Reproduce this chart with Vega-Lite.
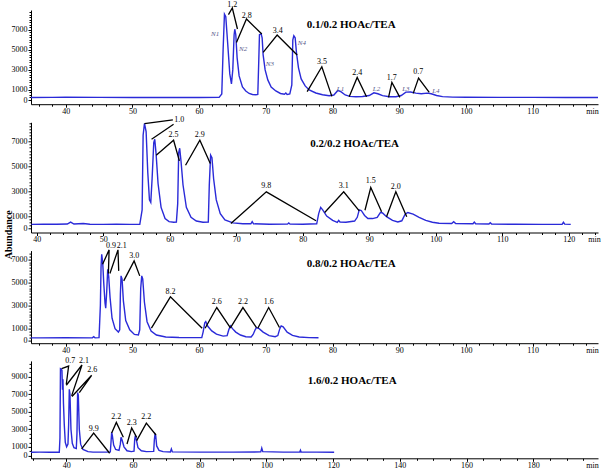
{
  "$schema": "https://vega.github.io/schema/vega-lite/v6.json",
  "padding": {"left": 3, "top": 0, "right": 0, "bottom": 0},
  "config": {
    "view": {"stroke": null},
    "axis": {"grid": false, "domainColor": "black", "tickColor": "black", "labelColor": "black", "labelFont": "Liberation Serif", "labelFontSize": 8, "labelOverlap": false, "labelFlush": false, "titleFont": "Liberation Serif", "titleColor": "black"},
    "axisX": {"tickSize": 3, "labelPadding": 0, "format": "d", "titleFontWeight": "normal", "titleFontSize": 8, "titleX": 561, "titleY": 7, "titleBaseline": "middle", "titleAlign": "center"},
    "axisY": {"tickSize": 3, "labelPadding": 1, "format": "d"}
  },
  "datasets": {
    "c1": [
      {"t":34.8,"v":250},{"t":38,"v":260},{"t":40,"v":280},{"t":45,"v":260},{"t":50,"v":250},{"t":55,"v":255},{"t":60,"v":250},{"t":63.0,"v":260},{"t":63.4,"v":600},{"t":63.6,"v":5000},{"t":63.8,"v":8550},{"t":64.0,"v":8300},{"t":64.3,"v":5500},{"t":64.6,"v":2600},{"t":64.85,"v":1600},{"t":65.05,"v":3000},{"t":65.25,"v":6500},{"t":65.35,"v":7050},{"t":65.5,"v":6500},{"t":65.7,"v":4200},{"t":66.0,"v":2400},{"t":66.5,"v":1300},{"t":67.0,"v":900},{"t":67.5,"v":650},{"t":68.0,"v":550},{"t":68.5,"v":520},{"t":68.8,"v":550},{"t":68.95,"v":4000},{"t":69.05,"v":6500},{"t":69.3,"v":6600},{"t":69.45,"v":6200},{"t":69.6,"v":4500},{"t":69.9,"v":3000},{"t":70.3,"v":2000},{"t":70.8,"v":1300},{"t":71.5,"v":900},{"t":72.2,"v":650},{"t":72.8,"v":580},{"t":73.0,"v":700},{"t":73.2,"v":560},{"t":73.6,"v":600},{"t":73.9,"v":1500},{"t":74.05,"v":6000},{"t":74.2,"v":6400},{"t":74.4,"v":6200},{"t":74.6,"v":4700},{"t":74.9,"v":3200},{"t":75.3,"v":2100},{"t":75.9,"v":1400},{"t":76.5,"v":1000},{"t":77.5,"v":700},{"t":78.5,"v":520},{"t":79.5,"v":420},{"t":80.2,"v":500},{"t":80.8,"v":950},{"t":81.3,"v":800},{"t":81.9,"v":500},{"t":82.6,"v":360},{"t":83.5,"v":330},{"t":84.5,"v":350},{"t":85.5,"v":450},{"t":86.2,"v":720},{"t":86.8,"v":620},{"t":87.5,"v":430},{"t":88.5,"v":330},{"t":89.5,"v":330},{"t":90.3,"v":450},{"t":91.0,"v":780},{"t":91.7,"v":800},{"t":92.5,"v":690},{"t":93.3,"v":620},{"t":94.2,"v":680},{"t":94.8,"v":620},{"t":95.6,"v":450},{"t":96.5,"v":340},{"t":98,"v":290},{"t":100,"v":270},{"t":105,"v":260},{"t":110,"v":260},{"t":115,"v":255},{"t":119.8,"v":250}
    ],
    "a1": [
      {"id":"1.2","o":0,"t":64.4,"v":8500},{"id":"1.2","o":1,"t":64.98,"v":9160},{"id":"1.2","o":2,"t":65.75,"v":7070},
      {"id":"2.8","o":0,"t":65.6,"v":5737},{"id":"2.8","o":1,"t":67.1,"v":8068},{"id":"2.8","o":2,"t":69.4,"v":6574},
      {"id":"3.4","o":0,"t":69.6,"v":4741},{"id":"3.4","o":1,"t":71.7,"v":6474},{"id":"3.4","o":2,"t":74.7,"v":4482},
      {"id":"3.5","o":0,"t":76.2,"v":827},{"id":"3.5","o":1,"t":78.4,"v":3317},{"id":"3.5","o":2,"t":79.9,"v":359},
      {"id":"2.4","o":0,"t":82.5,"v":329},{"id":"2.4","o":1,"t":83.7,"v":2251},{"id":"2.4","o":2,"t":85.1,"v":329},
      {"id":"1.7","o":0,"t":88.4,"v":259},{"id":"1.7","o":1,"t":88.9,"v":1753},{"id":"1.7","o":2,"t":90.1,"v":259},
      {"id":"0.7","o":0,"t":92.1,"v":657},{"id":"0.7","o":1,"t":92.9,"v":2191},{"id":"0.7","o":2,"t":94.5,"v":757}
    ],
    "l1": [
      {"t":64.98,"v":9490,"s":"1.2"},{"t":67.14,"v":8400,"s":"2.8"},{"t":71.78,"v":6900,"s":"3.4"},{"t":78.43,"v":3780,"s":"3.5"},{"t":83.72,"v":2650,"s":"2.4"},{"t":88.88,"v":2190,"s":"1.7"},{"t":92.86,"v":2780,"s":"0.7"}
    ],
    "n1": [
      {"t":62.4,"v":6570,"s":"N1"},{"t":66.6,"v":5080,"s":"N2"},{"t":70.6,"v":3585,"s":"N3"},{"t":75.4,"v":5637,"s":"N4"},{"t":81.2,"v":1095,"s":"L1"},{"t":86.6,"v":1095,"s":"L2"},{"t":91.0,"v":1095,"s":"L3"},{"t":95.5,"v":926,"s":"L4"}
    ],
    "c2": [
      {"t":39.2,"v":330},{"t":41,"v":340},{"t":43,"v":340},{"t":44.6,"v":360},{"t":45.1,"v":520},{"t":45.6,"v":360},{"t":47.0,"v":400},{"t":48,"v":340},{"t":50,"v":330},{"t":52,"v":340},{"t":54,"v":330},{"t":55.5,"v":340},{"t":55.85,"v":1500},{"t":56.0,"v":7500},{"t":56.2,"v":8450},{"t":56.45,"v":7800},{"t":56.7,"v":4500},{"t":56.95,"v":2300},{"t":57.15,"v":2100},{"t":57.35,"v":4000},{"t":57.6,"v":6900},{"t":57.75,"v":7180},{"t":57.95,"v":6000},{"t":58.25,"v":3600},{"t":58.7,"v":1700},{"t":59.3,"v":800},{"t":59.9,"v":550},{"t":60.6,"v":500},{"t":61.0,"v":520},{"t":61.2,"v":2000},{"t":61.35,"v":6100},{"t":61.5,"v":6460},{"t":61.7,"v":5400},{"t":62.0,"v":3500},{"t":62.5,"v":1700},{"t":63.2,"v":900},{"t":64.0,"v":600},{"t":65.0,"v":500},{"t":65.8,"v":520},{"t":65.95,"v":3500},{"t":66.15,"v":5900},{"t":66.35,"v":5700},{"t":66.6,"v":4000},{"t":67.0,"v":2300},{"t":67.6,"v":1200},{"t":68.3,"v":700},{"t":69.5,"v":450},{"t":71,"v":380},{"t":72.2,"v":380},{"t":72.4,"v":550},{"t":72.6,"v":380},{"t":75,"v":340},{"t":77.7,"v":350},{"t":77.9,"v":450},{"t":78.1,"v":350},{"t":80,"v":340},{"t":82.1,"v":380},{"t":82.4,"v":1200},{"t":82.7,"v":1700},{"t":83.0,"v":1500},{"t":83.6,"v":1000},{"t":84.5,"v":650},{"t":85.2,"v":500},{"t":85.4,"v":650},{"t":85.6,"v":520},{"t":86.5,"v":500},{"t":87.8,"v":600},{"t":88.2,"v":900},{"t":88.5,"v":1500},{"t":88.8,"v":1450},{"t":89.3,"v":1050},{"t":89.8,"v":800},{"t":90.5,"v":800},{"t":91.2,"v":900},{"t":91.7,"v":1300},{"t":92.0,"v":1250},{"t":92.6,"v":950},{"t":93.5,"v":650},{"t":94.3,"v":530},{"t":94.9,"v":620},{"t":95.4,"v":1150},{"t":95.8,"v":1290},{"t":96.6,"v":1150},{"t":97.5,"v":900},{"t":98.5,"v":650},{"t":99.5,"v":500},{"t":100.5,"v":420},{"t":102.4,"v":400},{"t":102.7,"v":550},{"t":103.0,"v":400},{"t":105.6,"v":380},{"t":105.8,"v":520},{"t":106.0,"v":380},{"t":108.0,"v":360},{"t":108.2,"v":470},{"t":108.4,"v":360},{"t":112,"v":340},{"t":116,"v":330},{"t":119.0,"v":340},{"t":119.2,"v":500},{"t":119.4,"v":350},{"t":120.3,"v":330}
    ],
    "a2": [
      {"id":"1.0a","o":0,"t":56.2,"v":8440},{"id":"1.0a","o":1,"t":60.47,"v":8740},
      {"id":"1.0b","o":0,"t":57.27,"v":7180},{"id":"1.0b","o":1,"t":60.58,"v":8390},
      {"id":"2.5","o":0,"t":57.97,"v":5900},{"id":"2.5","o":1,"t":60.58,"v":7100},{"id":"2.5","o":2,"t":61.45,"v":5440},
      {"id":"2.9","o":0,"t":62.38,"v":5090},{"id":"2.9","o":1,"t":64.53,"v":7100},{"id":"2.9","o":2,"t":66.1,"v":5226},
      {"id":"9.8","o":0,"t":69.2,"v":400},{"id":"9.8","o":1,"t":74.53,"v":2950},{"id":"9.8","o":2,"t":82.0,"v":620},
      {"id":"3.1","o":0,"t":83.3,"v":1290},{"id":"3.1","o":1,"t":86.16,"v":2950},{"id":"3.1","o":2,"t":88.5,"v":1420},
      {"id":"1.5","o":0,"t":89.36,"v":1470},{"id":"1.5","o":1,"t":90.23,"v":3300},{"id":"1.5","o":2,"t":91.86,"v":1340},
      {"id":"2.0","o":0,"t":92.6,"v":940},{"id":"2.0","o":1,"t":94.0,"v":2950},{"id":"2.0","o":2,"t":95.64,"v":940}
    ],
    "l2": [
      {"t":61.45,"v":8740,"s":"1.0"},{"t":60.58,"v":7500,"s":"2.5"},{"t":64.53,"v":7500,"s":"2.9"},{"t":74.53,"v":3430,"s":"9.8"},{"t":86.16,"v":3430,"s":"3.1"},{"t":90.23,"v":3830,"s":"1.5"},{"t":94.0,"v":3350,"s":"2.0"}
    ],
    "c3": [
      {"t":34.8,"v":200},{"t":36,"v":200},{"t":40,"v":210},{"t":44.0,"v":200},{"t":44.2,"v":300},{"t":44.4,"v":200},{"t":45.0,"v":220},{"t":45.2,"v":3000},{"t":45.3,"v":6300},{"t":45.4,"v":7430},{"t":45.55,"v":6700},{"t":45.7,"v":5000},{"t":45.9,"v":3200},{"t":46.0,"v":2765},{"t":46.15,"v":4200},{"t":46.3,"v":6130},{"t":46.45,"v":5500},{"t":46.65,"v":3700},{"t":46.95,"v":1900},{"t":47.4,"v":1000},{"t":47.9,"v":700},{"t":48.1,"v":900},{"t":48.2,"v":4000},{"t":48.3,"v":5560},{"t":48.45,"v":5300},{"t":48.65,"v":3400},{"t":49.0,"v":1700},{"t":49.6,"v":900},{"t":50.3,"v":500},{"t":50.9,"v":450},{"t":51.1,"v":900},{"t":51.25,"v":4500},{"t":51.4,"v":5560},{"t":51.55,"v":5300},{"t":51.8,"v":3300},{"t":52.2,"v":1600},{"t":52.8,"v":800},{"t":53.6,"v":450},{"t":55,"v":280},{"t":57,"v":230},{"t":59,"v":220},{"t":60.4,"v":230},{"t":60.6,"v":700},{"t":60.85,"v":1500},{"t":61.0,"v":1610},{"t":61.3,"v":1200},{"t":61.9,"v":800},{"t":62.6,"v":520},{"t":63.6,"v":350},{"t":64.2,"v":400},{"t":64.45,"v":900},{"t":64.7,"v":1240},{"t":65.0,"v":1000},{"t":65.5,"v":700},{"t":66.2,"v":450},{"t":67.0,"v":300},{"t":67.8,"v":280},{"t":68.1,"v":500},{"t":68.4,"v":900},{"t":68.6,"v":1094},{"t":69.0,"v":1000},{"t":69.6,"v":700},{"t":70.5,"v":400},{"t":71.4,"v":300},{"t":71.8,"v":400},{"t":72.1,"v":1000},{"t":72.3,"v":1240},{"t":72.6,"v":1150},{"t":73.2,"v":700},{"t":74.0,"v":420},{"t":75.0,"v":280},{"t":76.5,"v":220},{"t":77.9,"v":210}
    ],
    "a3": [
      {"id":"0.9","o":0,"t":45.53,"v":6566},{"id":"0.9","o":1,"t":46.51,"v":7805},{"id":"0.9","o":2,"t":46.4,"v":5760},
      {"id":"2.1","o":0,"t":46.63,"v":5760},{"id":"2.1","o":1,"t":47.84,"v":7805},{"id":"2.1","o":2,"t":47.95,"v":5990},
      {"id":"3.0","o":0,"t":48.7,"v":5126},{"id":"3.0","o":1,"t":50.26,"v":6854},{"id":"3.0","o":2,"t":51.1,"v":5560},
      {"id":"8.2","o":0,"t":52.85,"v":1037},{"id":"8.2","o":1,"t":55.7,"v":3744},{"id":"8.2","o":2,"t":60.46,"v":1037},
      {"id":"2.6","o":0,"t":60.9,"v":1037},{"id":"2.6","o":1,"t":62.65,"v":2822},{"id":"2.6","o":2,"t":64.67,"v":1094},
      {"id":"2.2","o":0,"t":64.67,"v":1037},{"id":"2.2","o":1,"t":66.57,"v":2822},{"id":"2.2","o":2,"t":68.6,"v":1094},
      {"id":"1.6","o":0,"t":68.8,"v":1037},{"id":"1.6","o":1,"t":70.43,"v":2822},{"id":"1.6","o":2,"t":72.05,"v":1094}
    ],
    "l3": [
      {"t":46.8,"v":8150,"s":"0.9"},{"t":48.4,"v":8150,"s":"2.1"},{"t":50.26,"v":7290,"s":"3.0"},{"t":55.7,"v":4180,"s":"8.2"},{"t":62.65,"v":3310,"s":"2.6"},{"t":66.57,"v":3310,"s":"2.2"},{"t":70.43,"v":3310,"s":"1.6"}
    ],
    "c4": [
      {"t":29.42,"v":380},{"t":32,"v":390},{"t":35,"v":380},{"t":37.9,"v":380},{"t":38.1,"v":2000},{"t":38.25,"v":9900},{"t":38.5,"v":9850},{"t":38.7,"v":9700},{"t":38.85,"v":7500},{"t":39.0,"v":8700},{"t":39.15,"v":6000},{"t":39.4,"v":3500},{"t":39.7,"v":1500},{"t":40.1,"v":1000},{"t":40.5,"v":1300},{"t":40.7,"v":3500},{"t":40.9,"v":7560},{"t":41.1,"v":7000},{"t":41.4,"v":3000},{"t":41.8,"v":1400},{"t":42.3,"v":900},{"t":43.0,"v":800},{"t":43.2,"v":2500},{"t":43.4,"v":7180},{"t":43.6,"v":6900},{"t":43.9,"v":3000},{"t":44.3,"v":1300},{"t":45.0,"v":700},{"t":46.5,"v":450},{"t":48,"v":400},{"t":50,"v":390},{"t":52,"v":390},{"t":53.2,"v":420},{"t":53.4,"v":1500},{"t":53.6,"v":2650},{"t":53.8,"v":2300},{"t":54.2,"v":1200},{"t":54.8,"v":700},{"t":55.8,"v":600},{"t":56.2,"v":1300},{"t":56.4,"v":2080},{"t":56.7,"v":1800},{"t":57.3,"v":1000},{"t":58.2,"v":550},{"t":59.5,"v":450},{"t":60.3,"v":500},{"t":60.5,"v":1800},{"t":60.7,"v":2270},{"t":61.0,"v":1800},{"t":61.5,"v":900},{"t":62.5,"v":550},{"t":64,"v":450},{"t":66.2,"v":480},{"t":66.4,"v":1800},{"t":66.6,"v":2450},{"t":66.8,"v":2300},{"t":67.1,"v":1100},{"t":67.8,"v":600},{"t":69,"v":450},{"t":71.2,"v":420},{"t":71.5,"v":750},{"t":71.8,"v":420},{"t":80,"v":400},{"t":90,"v":400},{"t":98.3,"v":420},{"t":98.6,"v":850},{"t":98.9,"v":450},{"t":105,"v":400},{"t":110.0,"v":400},{"t":110.2,"v":600},{"t":110.4,"v":400},{"t":115,"v":390},{"t":120.3,"v":380}
    ],
    "a4": [
      {"id":"0.7","o":0,"t":38.6,"v":9900},{"id":"0.7","o":1,"t":40.7,"v":10200},{"id":"0.7","o":2,"t":40.0,"v":8130},
      {"id":"2.1","o":0,"t":40.0,"v":8014},{"id":"2.1","o":1,"t":44.7,"v":10320},{"id":"2.1","o":2,"t":41.6,"v":6800},
      {"id":"2.6","o":0,"t":41.7,"v":6730},{"id":"2.6","o":1,"t":47.6,"v":9150},{"id":"2.6","o":2,"t":43.9,"v":7180},
      {"id":"9.9","o":0,"t":44.6,"v":756},{"id":"9.9","o":1,"t":48.2,"v":2570},{"id":"9.9","o":2,"t":53.0,"v":265},
      {"id":"2.2a","o":0,"t":53.6,"v":2570},{"id":"2.2a","o":1,"t":55.0,"v":3780},{"id":"2.2a","o":2,"t":57.1,"v":2080},
      {"id":"2.3","o":0,"t":58.2,"v":1323},{"id":"2.3","o":1,"t":59.6,"v":3137},{"id":"2.3","o":2,"t":61.1,"v":2080},
      {"id":"2.2b","o":0,"t":61.1,"v":1700},{"id":"2.2b","o":1,"t":64.0,"v":3700},{"id":"2.2b","o":2,"t":66.9,"v":2344}
    ],
    "l4": [
      {"t":41.2,"v":10770,"s":"0.7"},{"t":45.3,"v":10770,"s":"2.1"},{"t":47.8,"v":9750,"s":"2.6"},{"t":48.2,"v":3020,"s":"9.9"},{"t":55.0,"v":4350,"s":"2.2"},{"t":59.6,"v":3700,"s":"2.3"},{"t":64.0,"v":4350,"s":"2.2"}
    ]
  },
  "bounds": "flush",
  "spacing": 17.3,
  "resolve": {"scale": {"x": "independent", "y": "independent"}, "axis": {"x": "independent", "y": "independent"}},
  "vconcat": [
    {
      "width": 567, "height": 94.2,
      "resolve": {"axis": {"x": "independent", "y": "independent"}},
      "layer": [
        {"data": {"name": "c1"}, "mark": {"type": "line", "color": "#2a2ad8", "strokeWidth": 1.4},
         "encoding": {
           "x": {"field": "t", "type": "quantitative", "scale": {"domain": [34.8, 119.8], "nice": false, "zero": false}, "axis": {"orient": "bottom", "title": "min", "values": [40,50,60,70,80,90,100,110]}},
           "y": {"field": "v", "type": "quantitative", "scale": {"domain": [-418, 8964], "nice": false, "zero": false}, "axis": {"orient": "left", "title": null, "values": [0,1000,3000,5000,7000]}}
         }},
        {"data": {"name": "a1"}, "mark": {"type": "line", "color": "black", "strokeWidth": 1.3},
         "encoding": {
           "x": {"field": "t", "type": "quantitative", "axis": {"orient": "bottom", "title": null, "labels": false, "domain": false, "tickSize": 2, "values": [36,38,42,44,46,48,52,54,56,58,62,64,66,68,72,74,76,78,82,84,86,88,92,94,96,98,102,104,106,108,112,114,116,118]}},
           "y": {"field": "v", "type": "quantitative", "axis": {"orient": "left", "title": null, "labels": false, "domain": false, "tickSize": 2, "values": [250,500,750,1250,1500,1750,2000,2250,2500,2750,3250,3500,3750,4000,4250,4500,4750,5250,5500,5750,6000,6250,6500,6750,7250,7500,7750,8000,8250,8500,8750]}},
           "detail": {"field": "id"}, "order": {"field": "o"}}},
        {"data": {"name": "l1"}, "mark": {"type": "text", "font": "Liberation Serif", "fontSize": 8, "fill": "black"},
         "encoding": {"x": {"field": "t", "type": "quantitative", "axis": null}, "y": {"field": "v", "type": "quantitative", "axis": null}, "text": {"field": "s"}}},
        {"data": {"name": "n1"}, "mark": {"type": "text", "font": "Liberation Serif", "fontSize": 7, "fontStyle": "italic", "fill": "#5a5a8c"},
         "encoding": {"x": {"field": "t", "type": "quantitative", "axis": null}, "y": {"field": "v", "type": "quantitative", "axis": null}, "text": {"field": "s"}}},
        {"data": {"values": [{"t": 82.8, "v": 7490, "s": "0.1/0.2 HOAc/TEA"}]}, "mark": {"type": "text", "font": "Liberation Serif", "fontSize": 11, "fontWeight": "bold", "fill": "black"},
         "encoding": {"x": {"field": "t", "type": "quantitative", "axis": null}, "y": {"field": "v", "type": "quantitative", "axis": null}, "text": {"field": "s"}}}
      ]
    },
    {
      "width": 567, "height": 110.2,
      "resolve": {"axis": {"x": "independent", "y": "independent"}},
      "layer": [
        {"data": {"name": "c2"}, "mark": {"type": "line", "color": "#2a2ad8", "strokeWidth": 1.4},
         "encoding": {
           "x": {"field": "t", "type": "quantitative", "scale": {"domain": [39.14, 124.4], "nice": false, "zero": false}, "axis": {"orient": "bottom", "title": "min", "titleX": 563, "values": [40,50,60,70,80,90,100,110,120]}},
           "y": {"field": "v", "type": "quantitative", "scale": {"domain": [-322, 8544], "nice": false, "zero": false}, "axis": {"orient": "left", "title": "Abundance", "titleFontSize": 10, "titleFontWeight": "bold", "titleAngle": -90, "titleX": -18, "titleY": 112, "titleBaseline": "bottom", "titleAlign": "center", "values": [0,1000,3000,5000,7000]}}
         }},
        {"data": {"name": "a2"}, "mark": {"type": "line", "color": "black", "strokeWidth": 1.3},
         "encoding": {
           "x": {"field": "t", "type": "quantitative", "axis": {"orient": "bottom", "title": null, "labels": false, "domain": false, "tickSize": 2, "values": [42,44,46,48,52,54,56,58,62,64,66,68,72,74,76,78,82,84,86,88,92,94,96,98,102,104,106,108,112,114,116,118,122,124]}},
           "y": {"field": "v", "type": "quantitative", "axis": {"orient": "left", "title": null, "labels": false, "domain": false, "tickSize": 2, "values": [250,500,750,1250,1500,1750,2000,2250,2500,2750,3250,3500,3750,4000,4250,4500,4750,5250,5500,5750,6000,6250,6500,6750,7250,7500,7750,8000,8250,8500]}},
           "detail": {"field": "id"}, "order": {"field": "o"}}},
        {"data": {"name": "l2"}, "mark": {"type": "text", "font": "Liberation Serif", "fontSize": 8, "fill": "black"},
         "encoding": {"x": {"field": "t", "type": "quantitative", "axis": null}, "y": {"field": "v", "type": "quantitative", "axis": null}, "text": {"field": "s"}}},
        {"data": {"values": [{"t": 87.8, "v": 6780, "s": "0.2/0.2 HOAc/TEA"}]}, "mark": {"type": "text", "font": "Liberation Serif", "fontSize": 11, "fontWeight": "bold", "fill": "black"},
         "encoding": {"x": {"field": "t", "type": "quantitative", "axis": null}, "y": {"field": "v", "type": "quantitative", "axis": null}, "text": {"field": "s"}}}
      ]
    },
    {
      "width": 567, "height": 92.6,
      "resolve": {"axis": {"x": "independent", "y": "independent"}},
      "layer": [
        {"data": {"name": "c3"}, "mark": {"type": "line", "color": "#2a2ad8", "strokeWidth": 1.4},
         "encoding": {
           "x": {"field": "t", "type": "quantitative", "scale": {"domain": [34.8, 119.8], "nice": false, "zero": false}, "axis": {"orient": "bottom", "title": "min", "values": [40,50,60,70,80,90,100,110]}},
           "y": {"field": "v", "type": "quantitative", "scale": {"domain": [-259, 7744], "nice": false, "zero": false}, "axis": {"orient": "left", "title": null, "values": [0,1000,3000,5000,7000]}}
         }},
        {"data": {"name": "a3"}, "mark": {"type": "line", "color": "black", "strokeWidth": 1.3},
         "encoding": {
           "x": {"field": "t", "type": "quantitative", "axis": {"orient": "bottom", "title": null, "labels": false, "domain": false, "tickSize": 2, "values": [36,38,42,44,46,48,52,54,56,58,62,64,66,68,72,74,76,78,82,84,86,88,92,94,96,98,102,104,106,108,112,114,116,118]}},
           "y": {"field": "v", "type": "quantitative", "axis": {"orient": "left", "title": null, "labels": false, "domain": false, "tickSize": 2, "values": [250,500,750,1250,1500,1750,2000,2250,2500,2750,3250,3500,3750,4000,4250,4500,4750,5250,5500,5750,6000,6250,6500,6750,7250,7500]}},
           "detail": {"field": "id"}, "order": {"field": "o"}}},
        {"data": {"name": "l3"}, "mark": {"type": "text", "font": "Liberation Serif", "fontSize": 8, "fill": "black"},
         "encoding": {"x": {"field": "t", "type": "quantitative", "axis": null}, "y": {"field": "v", "type": "quantitative", "axis": null}, "text": {"field": "s"}}},
        {"data": {"values": [{"t": 82.8, "v": 6566, "s": "0.8/0.2 HOAc/TEA"}]}, "mark": {"type": "text", "font": "Liberation Serif", "fontSize": 11, "fontWeight": "bold", "fill": "black"},
         "encoding": {"x": {"field": "t", "type": "quantitative", "axis": null}, "y": {"field": "v", "type": "quantitative", "axis": null}, "text": {"field": "s"}}}
      ]
    },
    {
      "width": 567, "height": 97.4,
      "resolve": {"axis": {"x": "independent", "y": "independent"}},
      "layer": [
        {"data": {"name": "c4"}, "mark": {"type": "line", "color": "#2a2ad8", "strokeWidth": 1.4},
         "encoding": {
           "x": {"field": "t", "type": "quantitative", "scale": {"domain": [29.42, 199.4], "nice": false, "zero": false}, "axis": {"orient": "bottom", "title": "min", "values": [40,60,80,100,120,140,160,180]}},
           "y": {"field": "v", "type": "quantitative", "scale": {"domain": [-308, 10786], "nice": false, "zero": false}, "axis": {"orient": "left", "title": null, "values": [0,1000,3000,5000,7000,9000]}}
         }},
        {"data": {"name": "a4"}, "mark": {"type": "line", "color": "black", "strokeWidth": 1.3},
         "encoding": {
           "x": {"field": "t", "type": "quantitative", "axis": {"orient": "bottom", "title": null, "labels": false, "domain": false, "tickSize": 2, "values": [30,35,45,50,55,65,70,75,85,90,95,105,110,115,125,130,135,145,150,155,165,170,175,185,190,195]}},
           "y": {"field": "v", "type": "quantitative", "axis": {"orient": "left", "title": null, "labels": false, "domain": false, "tickSize": 2, "values": [500,1500,2000,2500,3500,4000,4500,5500,6000,6500,7500,8000,8500,9500,10000,10500]}},
           "detail": {"field": "id"}, "order": {"field": "o"}}},
        {"data": {"name": "l4"}, "mark": {"type": "text", "font": "Liberation Serif", "fontSize": 8, "fill": "black"},
         "encoding": {"x": {"field": "t", "type": "quantitative", "axis": null}, "y": {"field": "v", "type": "quantitative", "axis": null}, "text": {"field": "s"}}},
        {"data": {"values": [{"t": 125.7, "v": 8540, "s": "1.6/0.2 HOAc/TEA"}]}, "mark": {"type": "text", "font": "Liberation Serif", "fontSize": 11, "fontWeight": "bold", "fill": "black"},
         "encoding": {"x": {"field": "t", "type": "quantitative", "axis": null}, "y": {"field": "v", "type": "quantitative", "axis": null}, "text": {"field": "s"}}}
      ]
    }
  ]
}
